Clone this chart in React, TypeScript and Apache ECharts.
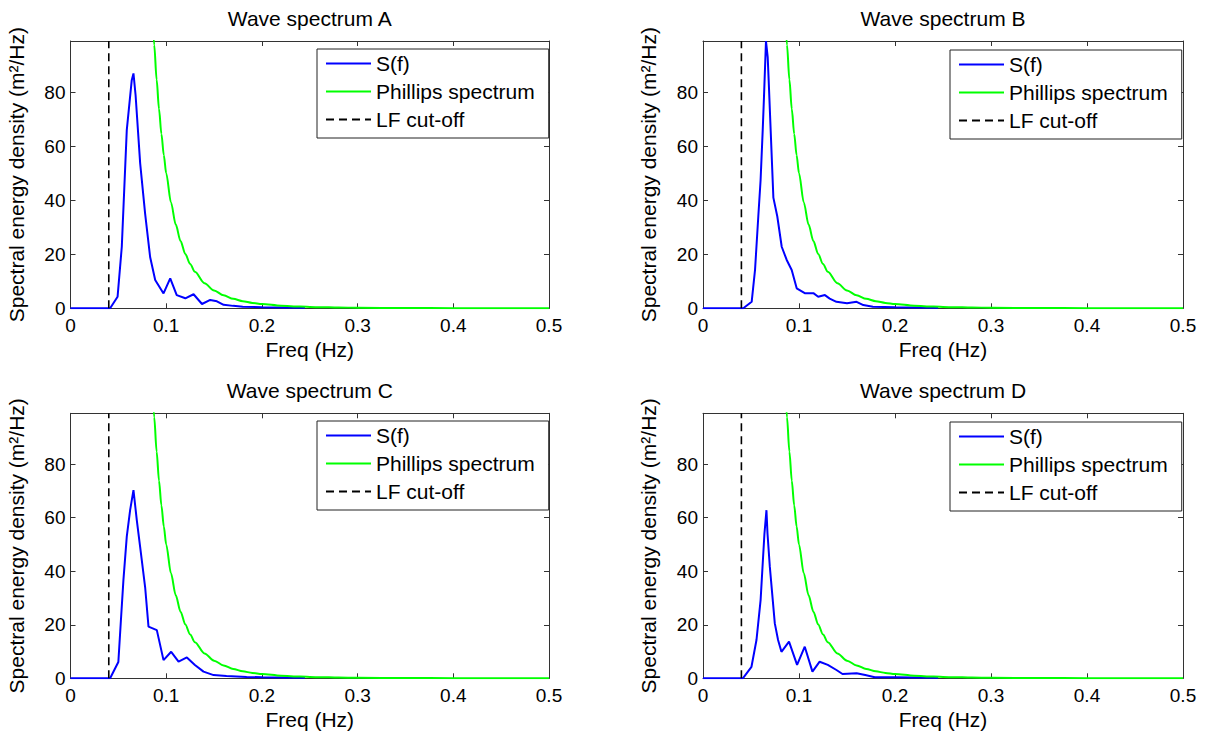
import React, { useEffect, useRef } from "react";
import * as echarts from "echarts";

// ---------- data ----------
const titles = ["Wave spectrum A", "Wave spectrum B", "Wave spectrum C", "Wave spectrum D"];
const legendNames = ["S(f)", "Phillips spectrum", "LF cut-off"];
const xTickMax = 0.5;
const yMax = 99;
const lfCutoff = 0.04;

const freqA = [0, 0.0414, 0.0492, 0.0536, 0.0588, 0.064, 0.0658, 0.068, 0.0728, 0.078, 0.0832, 0.0885, 0.0972, 0.1042, 0.111, 0.12, 0.1286, 0.1374, 0.146, 0.153, 0.16, 0.17, 0.18, 0.2, 0.22, 0.245];
const sA = [0, 0, 4.3, 22.8, 66, 84.5, 87, 79, 53.7, 35, 19, 10.5, 5.5, 11.1, 4.9, 3.7, 5.2, 1.6, 3.1, 2.6, 1.3, 0.9, 0.6, 0.4, 0.3, 0.2];

const freqB = [0, 0.042, 0.0507, 0.0542, 0.0576, 0.06, 0.0622, 0.0635, 0.0656, 0.0674, 0.0684, 0.0698, 0.0733, 0.0774, 0.082, 0.0872, 0.0924, 0.0976, 0.106, 0.115, 0.12, 0.127, 0.132, 0.139, 0.15, 0.16, 0.167, 0.177, 0.2, 0.22, 0.245];
const sB = [0, 0, 2.4, 14.2, 34, 47.5, 66, 78, 99, 93, 84.5, 72, 41, 34, 22.8, 17.9, 14.2, 7.4, 5.6, 5.6, 4.3, 4.9, 3.6, 2.4, 1.9, 2.4, 1.2, 0.6, 0.4, 0.3, 0.2];

const freqC = [0, 0.0414, 0.05, 0.0529, 0.0553, 0.0588, 0.0623, 0.0658, 0.0693, 0.0728, 0.078, 0.0815, 0.0902, 0.0972, 0.1052, 0.1129, 0.1216, 0.13, 0.139, 0.1495, 0.163, 0.184, 0.2, 0.22, 0.245];
const sC = [0, 0, 6.1, 23, 36.7, 52.9, 62.8, 70.3, 59, 49, 34, 19.3, 18, 6.8, 9.9, 6.2, 7.8, 5, 2.5, 1.2, 0.9, 0.5, 0.4, 0.3, 0.2];

const freqD = [0, 0.0415, 0.0505, 0.0557, 0.06, 0.0626, 0.064, 0.0661, 0.0672, 0.0696, 0.0748, 0.0782, 0.0817, 0.0896, 0.098, 0.106, 0.114, 0.1215, 0.13, 0.139, 0.1453, 0.16, 0.169, 0.179, 0.2, 0.22, 0.245];
const sD = [0, 0, 4.3, 14.3, 29.2, 45.4, 54, 62.8, 54, 41.7, 20.5, 14.3, 9.9, 13.7, 5, 11.8, 2.5, 6.2, 5, 3.1, 1.6, 1.9, 1.2, 0.4, 0.4, 0.3, 0.2];

const freqPhillips = [0.085, 0.0875, 0.09, 0.0925, 0.095, 0.0975, 0.1, 0.105, 0.11, 0.115, 0.12, 0.125, 0.13, 0.14, 0.15, 0.16, 0.17, 0.18, 0.19, 0.2, 0.22, 0.24, 0.26, 0.28, 0.3, 0.35, 0.4, 0.45, 0.5];
const sPhillips = [112.7, 97.5, 84.7, 73.8, 64.6, 56.7, 50, 39.2, 31, 24.9, 20.1, 16.4, 13.5, 9.3, 6.6, 4.8, 3.5, 2.6, 2.0, 1.6, 0.97, 0.63, 0.42, 0.29, 0.21, 0.095, 0.049, 0.027, 0.016];

const spectra = [
  { f: freqA, s: sA },
  { f: freqB, s: sB },
  { f: freqC, s: sC },
  { f: freqD, s: sD },
];

// ---------- layout ----------
const FONT = "'Liberation Sans', Arial, Helvetica, sans-serif";
const grids = [
  { left: 70.5, top: 41, width: 478.5, height: 267.3 },
  { left: 703, top: 41, width: 480, height: 267.3 },
  { left: 70.5, top: 413.3, width: 478.5, height: 265 },
  { left: 703, top: 413.3, width: 480, height: 265 },
];
const legendPos = [
  { left: 317, top: 49 },
  { left: 950, top: 50 },
  { left: 317, top: 421 },
  { left: 950, top: 422 },
];
const titleY = [8, 8, 380, 380];

function buildOption() {
  const xAxis: any[] = [];
  const yAxis: any[] = [];
  const series: any[] = [];
  const legend: any[] = [];
  const graphic: any[] = [];
  const axisLineStyle = { color: "#333", width: 1 };

  grids.forEach((g, i) => {
    xAxis.push({
      gridIndex: i, type: "value", position: "bottom", min: 0, max: xTickMax, interval: 0.1,
      axisLine: { show: true, onZero: false, lineStyle: axisLineStyle },
      axisTick: { show: true, inside: true, length: 5, lineStyle: axisLineStyle },
      axisLabel: { fontSize: 19, color: "#000", fontFamily: FONT, margin: 8,
        formatter: (v: number) => String(Math.round(v * 10) / 10) },
      splitLine: { show: false },
      name: "Freq (Hz)", nameLocation: "middle", nameGap: 31,
      nameTextStyle: { fontSize: 21, color: "#000", fontFamily: FONT },
    });
    xAxis.push({
      gridIndex: i, type: "value", position: "top", min: 0, max: xTickMax, interval: 0.1,
      axisLine: { show: true, onZero: false, lineStyle: axisLineStyle },
      axisTick: { show: true, inside: true, length: 5, lineStyle: axisLineStyle },
      axisLabel: { show: false }, splitLine: { show: false },
    });
    yAxis.push({
      gridIndex: i, type: "value", position: "left", min: 0, max: yMax, interval: 20,
      axisLine: { show: true, onZero: false, lineStyle: axisLineStyle },
      axisTick: { show: true, inside: true, length: 5, lineStyle: axisLineStyle },
      axisLabel: { fontSize: 19, color: "#000", fontFamily: FONT, margin: 5, showMaxLabel: false },
      splitLine: { show: false },
      name: "Spectral energy density (m²/Hz)", nameLocation: "middle", nameGap: 44,
      nameTextStyle: { fontSize: 21, color: "#000", fontFamily: FONT },
    });
    yAxis.push({
      gridIndex: i, type: "value", position: "right", min: 0, max: yMax, interval: 20,
      axisLine: { show: true, onZero: false, lineStyle: axisLineStyle },
      axisTick: { show: true, inside: true, length: 5, lineStyle: axisLineStyle },
      axisLabel: { show: false }, splitLine: { show: false },
    });

    const sp = spectra[i];
    series.push({
      name: legendNames[0], type: "line", xAxisIndex: 2 * i, yAxisIndex: 2 * i,
      data: sp.f.map((f, k) => [f, sp.s[k]]), symbol: "none",
      lineStyle: { color: "#0000ff", width: 2 }, itemStyle: { color: "#0000ff" },
    });
    series.push({
      name: legendNames[1], type: "line", xAxisIndex: 2 * i, yAxisIndex: 2 * i,
      data: freqPhillips.map((f, k) => [f, sPhillips[k]]), symbol: "none",
      smooth: 0.3, smoothMonotone: "x",
      lineStyle: { color: "#00ff00", width: 2 }, itemStyle: { color: "#00ff00" },
    });
    series.push({
      name: legendNames[2], type: "line", xAxisIndex: 2 * i, yAxisIndex: 2 * i,
      data: [[lfCutoff, 0], [lfCutoff, yMax]], symbol: "none",
      lineStyle: { color: "#000", width: 1.6, type: [8, 5] }, itemStyle: { color: "#000" },
    });

    legend.push({
      show: true, orient: "vertical", left: legendPos[i].left, top: legendPos[i].top,
      data: legendNames, selectedMode: false,
      itemWidth: 45, itemHeight: 14, itemGap: 7,
      padding: [4, 14, 8, 8],
      itemStyle: { opacity: 0, color: "rgba(0,0,0,0)", borderWidth: 0 },
      backgroundColor: "#fff", borderColor: "#222", borderWidth: 1,
      textStyle: { fontSize: 21, color: "#000", fontFamily: FONT, lineHeight: 21 },
    });

    graphic.push({
      type: "text", x: g.left + g.width / 2, y: titleY[i],
      style: { text: titles[i], font: `21px ${FONT}`, fill: "#000", textAlign: "center", textVerticalAlign: "top" },
    });
  });

  return {
    animation: false,
    backgroundColor: "#fff",
    grid: grids.map((g) => ({ ...g, containLabel: false })),
    xAxis, yAxis, series, legend, graphic,
  };
}

export default function App() {
  const ref = useRef<HTMLDivElement>(null);
  useEffect(() => {
    if (!ref.current) return;
    const chart = echarts.init(ref.current, undefined, { renderer: "svg" });
    chart.setOption(buildOption() as any);
    return () => chart.dispose();
  }, []);
  return (
    <div
      ref={ref}
      style={{ position: "fixed", left: 0, top: 0, width: 1210, height: 738, background: "#fff" }}
    />
  );
}
